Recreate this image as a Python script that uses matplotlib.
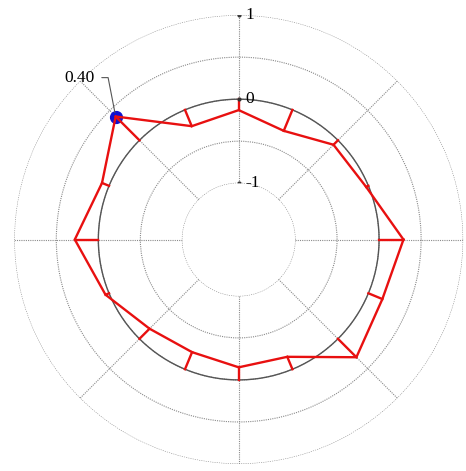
import matplotlib; matplotlib.use("Agg")
import matplotlib.pyplot as plt
import numpy as np

# values at 16 directions, counter-clockwise from east (0 deg)
angles_deg = [0, 22.5, 45, 67.5, 90, 112.5, 135, 157.5,
              180, 202.5, 225, 247.5, 270, 292.5, 315, 337.5]
values = [0.29, -0.03, -0.075, -0.27, -0.13, -0.21, 0.40, 0.09,
          0.28, 0.045, -0.17, -0.22, -0.15, -0.16, 0.31, 0.18]
ring_values = [-1, -0.5, 0, 0.5, 1]
label_values = [1, 0, -1]
label_texts = ["1", "0", "-1"]
marked_index = 6

plt.rcParams["font.family"] = ["Liberation Serif", "DejaVu Serif"]

fig = plt.figure(figsize=(4.66, 4.71), dpi=100)
ax = fig.add_axes([0.0305, 0.0149, 0.9635, 0.953], projection="polar")
ax.set_rlim(-1, 1)
ax.set_rorigin(-1.67)
ax.set_thetagrids(np.arange(0, 360, 45), labels=[])
ax.set_rgrids(ring_values, labels=[])
ax.grid(True, color="#8a8a8a", ls=(0, (1, 1)), lw=0.8)
for s in ax.spines.values():
    s.set_color("none")
    s.set_linewidth(0)
ax.tick_params(length=0, width=0)

# the zero circle
tt = np.linspace(0, 2 * np.pi, 400)
ax.plot(tt, np.zeros_like(tt), color="#555555", lw=1.0, zorder=2)

th = np.deg2rad(angles_deg)
vals = np.array(values)

# blue marker for the marked value
ax.plot(th[marked_index], vals[marked_index], "o", color="#1010d0",
        ms=8.5, zorder=3)

# red profile plus stems from the zero circle
ax.plot(np.append(th, th[0]), np.append(vals, vals[0]), color="#e81010",
        lw=1.7, zorder=4, solid_joinstyle="miter")
for t, v in zip(th, vals):
    ax.plot([t, t], [0, v], color="#e81010", lw=1.7, zorder=4)

# radial scale labels along the vertical axis
ax.plot([np.pi / 2] * 3, label_values, "o", color="#333333", ms=2, zorder=5)
for v, s in zip(label_values, label_texts):
    ax.annotate(s, (np.pi / 2, v), xytext=(5, 0), textcoords="offset points",
                ha="left", va="center", fontsize=12.5)

ax.annotate(f"{values[marked_index]:.2f}", (th[marked_index], vals[marked_index]),
            xytext=(-15, 28), textcoords="offset points", ha="right", va="center",
            fontsize=12.5,
            arrowprops=dict(arrowstyle="-", color="#555555", lw=0.8,
                            shrinkA=3, shrinkB=3,
                            connectionstyle="angle,angleA=0,angleB=101,rad=0"))

fig.savefig("out.png", dpi=100)
